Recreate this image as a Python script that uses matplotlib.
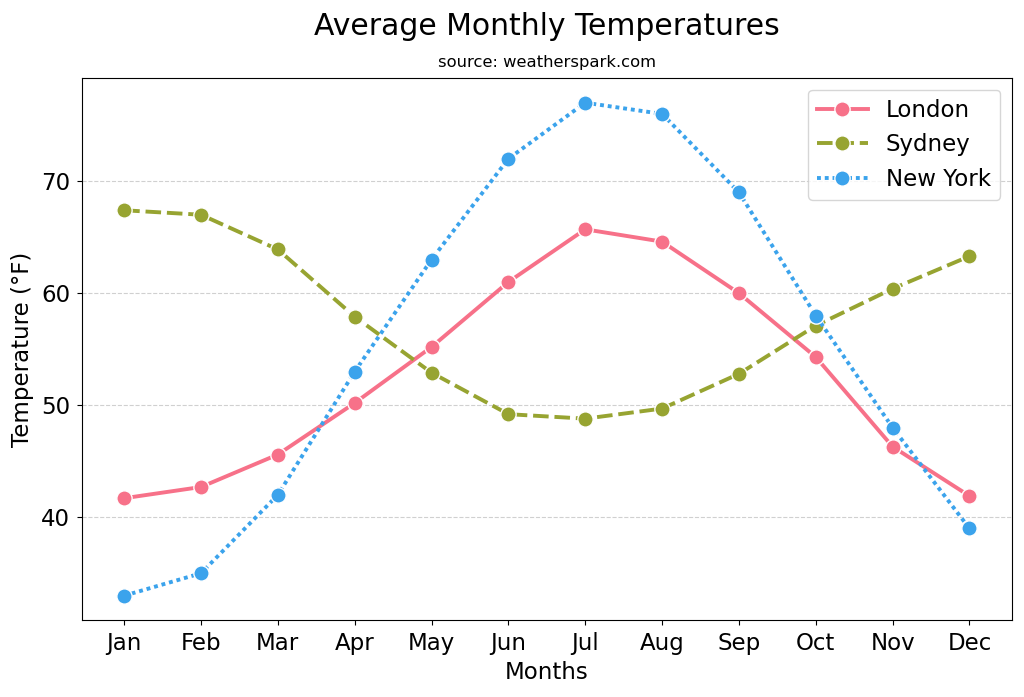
import numpy as np
import matplotlib
matplotlib.use("Agg")
import matplotlib.pyplot as plt

# Data
months = ['Jan', 'Feb', 'Mar', 'Apr', 'May', 'Jun',
          'Jul', 'Aug', 'Sep', 'Oct', 'Nov', 'Dec']
london = [41.7, 42.7, 45.6, 50.2, 55.2, 61.0, 65.7, 64.6, 60.0, 54.3, 46.3, 41.9]
sydney = [67.4, 67.0, 63.9, 57.9, 52.9, 49.2, 48.8, 49.7, 52.8, 57.1, 60.4, 63.3]
new_york = [33, 35, 42, 53, 63, 72, 77, 76, 69, 58, 48, 39]

cities = ['London', 'Sydney', 'New York']
colors = ['#f77189', '#97a431', '#3ba3ec']
dashes = [(None, None), (4, 1.5), (1, 1)]

fig = plt.figure(figsize=(10.24, 6.97), dpi=100)
ax = fig.add_axes([0.08, 0.11, 0.908, 0.778])

x = np.arange(len(months))
for name, vals, col, dsh in zip(cities, [london, sydney, new_york], colors, dashes):
    line, = ax.plot(x, vals, color=col, lw=2.8, marker='o', markersize=11,
                    markeredgecolor='white', markeredgewidth=1.0, label=name)
    if dsh[0] is not None:
        line.set_dashes(dsh)

ax.set_xticks(x)
ax.set_xticklabels(months)
ax.tick_params(labelsize=16.5, pad=5)
ax.set_yticks([40, 50, 60, 70])
ax.grid(axis='y', linestyle='--', color='#d0d0d0', lw=0.8)
ax.set_axisbelow(True)

ax.set_xlabel('Months', fontsize=16.5, labelpad=4)
ax.set_ylabel('Temperature (°F)', fontsize=16.5, labelpad=5)
ax.legend(loc='upper right', fontsize=16.5, handlelength=2.2)

fig.text(0.534, 0.962, 'Average Monthly Temperatures', ha='center', va='center', fontsize=21.5)
fig.text(0.534, 0.911, 'source: weatherspark.com', ha='center', va='center', fontsize=11.8)

fig.savefig('out.png', dpi=100)
